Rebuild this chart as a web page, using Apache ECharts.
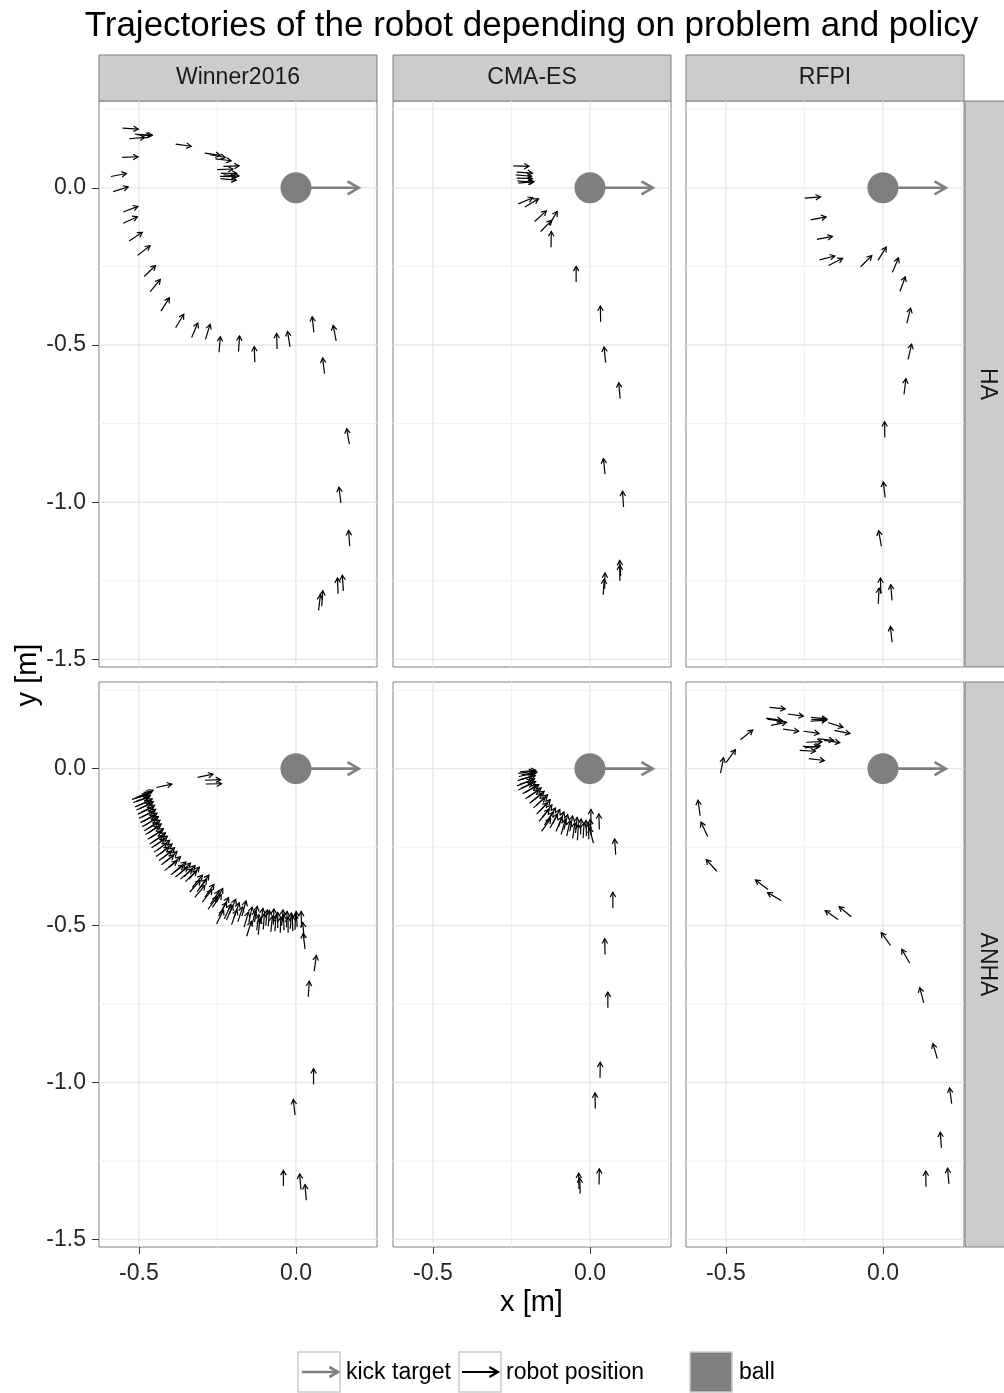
<!DOCTYPE html>
<html><head><meta charset="utf-8">
<script src="https://cdn.jsdelivr.net/npm/echarts@6/dist/echarts.min.js"></script>
<style>html,body{margin:0;padding:0;background:#fff;}#c{width:1004px;height:1393px;}</style>
</head><body><div id="c"></div>
<script>
// ---------- data ----------
const problems = ['HA', 'ANHA'];
const policies = ['Winner2016', 'CMA-ES', 'RFPI'];
const xTicks = [-0.5, 0.0];
const yTicks = [0.0, -0.5, -1.0, -1.5];
const xGridMajor = [-0.5, 0.0];
const xGridMinor = [-0.25, 0.25];
const yGridMajor = [0.0, -0.5, -1.0, -1.5];
const yGridMinor = [0.25, -0.25, -0.75, -1.25];
const ballPos = [0, 0];
const kickTarget = [0.2, 0];
const robotArrowLength = 0.05;
const titleText = 'Trajectories of the robot depending on problem and policy';
const xTitle = 'x [m]';
const yTitle = 'y [m]';
const legendLabels = ['kick target', 'robot position', 'ball'];

// robot positions: [x, y, heading in degrees]
const haWinner2016 = [
  [-0.552, 0.190, -4], [-0.513, 0.171, -7], [-0.507, 0.169, -2], [-0.531, 0.156, 5],
  [-0.383, 0.139, -8], [-0.290, 0.110, -8], [-0.274, 0.105, -10], [-0.256, 0.092, -7],
  [-0.231, 0.068, 2], [-0.251, 0.058, 2], [-0.239, 0.046, 0], [-0.231, 0.041, -4],
  [-0.242, 0.036, -1], [-0.240, 0.029, -5], [-0.553, 0.097, 2], [-0.589, 0.036, 11],
  [-0.582, -0.012, 17], [-0.550, -0.077, 21], [-0.550, -0.113, 25], [-0.531, -0.169, 33],
  [-0.504, -0.215, 38], [-0.483, -0.282, 44], [-0.464, -0.330, 50], [-0.430, -0.392, 57],
  [-0.383, -0.445, 59], [-0.332, -0.476, 67], [-0.288, -0.482, 73], [-0.245, -0.523, 85],
  [-0.183, -0.521, 86], [-0.131, -0.555, 92], [-0.060, -0.513, 92], [-0.019, -0.506, 99],
  [0.057, -0.460, 96], [0.128, -0.487, 101], [0.091, -0.591, 97], [0.170, -0.815, 100],
  [0.143, -1.002, 97], [0.171, -1.140, 94], [0.134, -1.291, 92], [0.151, -1.282, 94],
  [0.072, -1.344, 83], [0.082, -1.331, 86]
];
const haCMAES = [
  [-0.244, 0.070, -2], [-0.233, 0.050, -4], [-0.236, 0.041, -5], [-0.233, 0.031, -2],
  [-0.231, 0.022, -5], [-0.228, 0.015, 5], [-0.228, -0.051, 23], [-0.207, -0.061, 31],
  [-0.176, -0.107, 42], [-0.157, -0.139, 45], [-0.130, -0.118, 59], [-0.124, -0.189, 89],
  [-0.044, -0.300, 90], [0.034, -0.426, 91], [0.050, -0.556, 96], [0.096, -0.670, 95],
  [0.048, -0.911, 96], [0.107, -1.015, 94], [0.098, -1.235, 94], [0.095, -1.250, 90],
  [0.042, -1.294, 86], [0.047, -1.275, 89]
];
const haRFPI = [
  [-0.249, -0.033, 5], [-0.230, -0.102, 11], [-0.210, -0.164, 11], [-0.202, -0.229, 14],
  [-0.173, -0.247, 27], [-0.071, -0.251, 45], [-0.016, -0.231, 58], [0.030, -0.269, 67],
  [0.054, -0.330, 70], [0.076, -0.431, 76], [0.080, -0.546, 77], [0.067, -0.657, 83],
  [0.006, -0.794, 91], [0.007, -0.985, 97], [-0.005, -1.140, 100], [-0.015, -1.323, 87],
  [-0.007, -1.291, 91], [0.029, -1.312, 95], [0.029, -1.445, 96]
];
const anhaWinner2016 = [
  [-0.444, -0.060, 12], [-0.313, -0.028, 12], [-0.290, -0.037, 2], [-0.287, -0.049, 1],
  [-0.522, -0.098, 17], [-0.515, -0.095, 20], [-0.508, -0.092, 22], [-0.500, -0.090, 25],
  [-0.518, -0.108, 18], [-0.510, -0.105, 22], [-0.512, -0.122, 22], [-0.503, -0.118, 25],
  [-0.508, -0.132, 24], [-0.498, -0.128, 28], [-0.503, -0.145, 25], [-0.494, -0.140, 28],
  [-0.500, -0.158, 26], [-0.490, -0.155, 30], [-0.495, -0.172, 28], [-0.485, -0.168, 32],
  [-0.490, -0.185, 29], [-0.480, -0.180, 33], [-0.483, -0.198, 30], [-0.474, -0.192, 34],
  [-0.479, -0.210, 31], [-0.470, -0.205, 35], [-0.472, -0.225, 31], [-0.463, -0.220, 35],
  [-0.466, -0.240, 32], [-0.456, -0.234, 36], [-0.460, -0.252, 33], [-0.449, -0.246, 38],
  [-0.452, -0.266, 35], [-0.441, -0.260, 39], [-0.445, -0.280, 36], [-0.433, -0.272, 40],
  [-0.436, -0.293, 37], [-0.424, -0.285, 41], [-0.428, -0.306, 38], [-0.416, -0.298, 42],
  [-0.418, -0.325, 38], [-0.405, -0.314, 42], [-0.398, -0.338, 37], [-0.388, -0.330, 41],
  [-0.384, -0.345, 38], [-0.372, -0.336, 44], [-0.368, -0.352, 40], [-0.356, -0.345, 46],
  [-0.352, -0.360, 44], [-0.340, -0.352, 50], [-0.338, -0.393, 48], [-0.330, -0.378, 50],
  [-0.322, -0.410, 50], [-0.315, -0.392, 52], [-0.306, -0.380, 55], [-0.298, -0.425, 52],
  [-0.290, -0.410, 55], [-0.280, -0.448, 53], [-0.272, -0.432, 57], [-0.266, -0.442, 55],
  [-0.258, -0.425, 60], [-0.253, -0.495, 63], [-0.246, -0.470, 60], [-0.238, -0.455, 62],
  [-0.228, -0.478, 65], [-0.221, -0.482, 67], [-0.212, -0.462, 66], [-0.205, -0.497, 70],
  [-0.198, -0.475, 70], [-0.185, -0.488, 72], [-0.172, -0.470, 75], [-0.165, -0.505, 74],
  [-0.157, -0.534, 72], [-0.150, -0.490, 78], [-0.141, -0.502, 76], [-0.132, -0.488, 80],
  [-0.125, -0.515, 82], [-0.120, -0.529, 84], [-0.112, -0.495, 82], [-0.104, -0.512, 86],
  [-0.096, -0.500, 85], [-0.088, -0.502, 86], [-0.080, -0.520, 84], [-0.072, -0.497, 88],
  [-0.067, -0.518, 86], [-0.058, -0.508, 90], [-0.050, -0.523, 88], [-0.046, -0.500, 84],
  [-0.038, -0.515, 92], [-0.030, -0.505, 88], [-0.025, -0.523, 90], [-0.018, -0.510, 86],
  [-0.010, -0.518, 92], [-0.003, -0.513, 88], [0.004, -0.505, 94],
  [0.018, -0.505, 92], [0.026, -0.540, 95], [0.029, -0.575, 97],
  [0.058, -0.645, 82], [0.039, -0.727, 86], [0.056, -1.006, 90], [-0.003, -1.104, 96],
  [-0.040, -1.330, 90], [0.016, -1.341, 95], [0.033, -1.375, 95]
];
const anhaCMAES = [
  [-0.228, -0.015, 8], [-0.222, -0.010, 5], [-0.226, -0.025, 12], [-0.218, -0.020, 10],
  [-0.230, -0.038, 18], [-0.222, -0.035, 15], [-0.232, -0.055, 22], [-0.223, -0.050, 20],
  [-0.228, -0.068, 26], [-0.218, -0.062, 25], [-0.215, -0.080, 30], [-0.206, -0.076, 30],
  [-0.205, -0.096, 34], [-0.196, -0.090, 35], [-0.192, -0.110, 38], [-0.184, -0.104, 40],
  [-0.180, -0.125, 42], [-0.171, -0.118, 44], [-0.170, -0.145, 46], [-0.160, -0.136, 48],
  [-0.162, -0.168, 50], [-0.152, -0.155, 52], [-0.154, -0.200, 55], [-0.145, -0.180, 56],
  [-0.136, -0.168, 58], [-0.127, -0.189, 62], [-0.118, -0.175, 64], [-0.108, -0.200, 68],
  [-0.100, -0.185, 70], [-0.092, -0.210, 74], [-0.083, -0.195, 76], [-0.074, -0.215, 78],
  [-0.064, -0.200, 80], [-0.055, -0.222, 82], [-0.046, -0.205, 84], [-0.040, -0.228, 86],
  [-0.030, -0.210, 88], [-0.022, -0.222, 86], [-0.011, -0.215, 92], [-0.004, -0.225, 90],
  [0.004, -0.212, 94], [0.011, -0.237, 105], [0.003, -0.180, 90], [0.030, -0.194, 92],
  [0.082, -0.274, 94], [0.073, -0.444, 90], [0.048, -0.592, 91], [0.057, -0.762, 90],
  [0.032, -0.985, 89], [0.017, -1.083, 91], [0.029, -1.325, 89], [-0.035, -1.339, 91],
  [-0.031, -1.354, 92]
];
const anhaRFPI = [
  [-0.361, 0.195, -5], [-0.303, 0.174, -8], [-0.372, 0.161, -8], [-0.368, 0.158, -9],
  [-0.356, 0.138, 11], [-0.318, 0.126, -8], [-0.228, 0.156, 0], [-0.229, 0.163, -5],
  [-0.230, 0.151, 4], [-0.175, 0.147, -18], [-0.154, 0.122, -12], [-0.253, 0.119, -8],
  [-0.207, 0.095, -6], [-0.187, 0.090, -8], [-0.244, 0.084, 2], [-0.255, 0.071, -3],
  [-0.265, 0.058, -3], [-0.249, 0.066, 8], [-0.236, 0.032, -7], [-0.454, 0.092, 38],
  [-0.499, 0.020, 54], [-0.517, -0.014, 79], [-0.582, -0.150, 98], [-0.558, -0.216, 115],
  [-0.529, -0.327, 132], [-0.366, -0.385, 143], [-0.324, -0.420, 150], [-0.143, -0.481, 145],
  [-0.101, -0.472, 140], [0.024, -0.563, 126], [0.085, -0.619, 120], [0.130, -0.746, 105],
  [0.173, -0.924, 106], [0.219, -1.067, 98], [0.186, -1.208, 94], [0.137, -1.332, 91],
  [0.210, -1.323, 95]
];
const panelData = [
  [haWinner2016, haCMAES, haRFPI],
  [anhaWinner2016, anhaCMAES, anhaRFPI]
];

// ---------- layout ----------
const X_MIN = -0.627, X_MAX = 0.258, Y_MIN = -1.524, Y_MAX = 0.276;
const colLeft = [99, 393, 686], colW = 278;
const rowTop = [101, 682], rowH = [566, 565];
const FONT = '"Liberation Sans", Arial, Helvetica, sans-serif';
const GREY = '#7f7f7f';

function arrowGroup(p0, p1, head, color, width) {
  const a = Math.atan2(p1[1] - p0[1], p1[0] - p0[0]);
  const s = Math.PI / 6;
  const h1 = [p1[0] - head * Math.cos(a - s), p1[1] - head * Math.sin(a - s)];
  const h2 = [p1[0] - head * Math.cos(a + s), p1[1] - head * Math.sin(a + s)];
  return {
    type: 'group', children: [
      { type: 'line', shape: { x1: p0[0], y1: p0[1], x2: p1[0], y2: p1[1] }, style: { stroke: color, lineWidth: width, lineCap: 'butt' } },
      { type: 'polyline', shape: { points: [h1, p1, h2] }, style: { stroke: color, lineWidth: width, fill: null, lineJoin: 'miter' } }
    ]
  };
}

const grids = [], xAxes = [], yAxes = [], series = [];
let gi = 0;
for (let r = 0; r < 2; r++) {
  for (let c = 0; c < 3; c++) {
    grids.push({ left: colLeft[c], top: rowTop[r], width: colW, height: rowH[r], show: true,
      backgroundColor: '#fff', borderColor: GREY, borderWidth: 1, containLabel: false });
    xAxes.push({
      gridIndex: gi, type: 'value', min: X_MIN, max: X_MAX,
      axisLine: { show: false, onZero: false }, splitLine: { show: false },
      axisTick: { show: r === 1, customValues: xTicks, length: 7, lineStyle: { color: '#333', width: 1 } },
      axisLabel: { show: r === 1, customValues: xTicks, formatter: v => v.toFixed(1), fontSize: 23, color: '#262626', fontFamily: FONT, margin: 15 }
    });
    yAxes.push({
      gridIndex: gi, type: 'value', min: Y_MIN, max: Y_MAX,
      axisLine: { show: false, onZero: false }, splitLine: { show: false },
      axisTick: { show: c === 0, customValues: yTicks, length: 7, lineStyle: { color: '#333', width: 1 } },
      axisLabel: { show: c === 0, customValues: yTicks, formatter: v => v.toFixed(1), fontSize: 23, color: '#262626', fontFamily: FONT, margin: 13 }
    });
    const vData = xGridMajor.map(v => [v, 0, 1]).concat(xGridMinor.map(v => [v, 0, 0]));
    const hData = yGridMajor.map(v => [0, v, 1]).concat(yGridMinor.map(v => [0, v, 0]));
    series.push({
      type: 'custom', xAxisIndex: gi, yAxisIndex: gi, z: 1, silent: true, clip: true,
      data: vData, encode: { x: 0, y: 1 },
      renderItem: (params, api) => {
        const cs = params.coordSys;
        const px = api.coord([api.value(0), 0])[0];
        const major = api.value(2) === 1;
        return { type: 'line', shape: { x1: px, y1: cs.y, x2: px, y2: cs.y + cs.height },
          style: { stroke: major ? '#e6e6e6' : '#f0f0f0', lineWidth: major ? 1.3 : 1 } };
      }
    });
    series.push({
      type: 'custom', xAxisIndex: gi, yAxisIndex: gi, z: 1, silent: true, clip: true,
      data: hData, encode: { x: 0, y: 1 },
      renderItem: (params, api) => {
        const cs = params.coordSys;
        const py = api.coord([0, api.value(1)])[1];
        const major = api.value(2) === 1;
        return { type: 'line', shape: { x1: cs.x, y1: py, x2: cs.x + cs.width, y2: py },
          style: { stroke: major ? '#e6e6e6' : '#f0f0f0', lineWidth: major ? 1.3 : 1 } };
      }
    });
    series.push({
      type: 'custom', xAxisIndex: gi, yAxisIndex: gi, z: 3, silent: true,
      data: [[ballPos[0], ballPos[1], kickTarget[0], kickTarget[1]]], encode: { x: [0, 2], y: [1, 3] },
      renderItem: (params, api) => {
        const p0 = api.coord([api.value(0), api.value(1)]);
        const p1 = api.coord([api.value(2), api.value(3)]);
        return arrowGroup(p0, p1, 13, GREY, 2.6);
      }
    });
    series.push({
      type: 'custom', xAxisIndex: gi, yAxisIndex: gi, z: 4, silent: true,
      data: [ballPos], encode: { x: 0, y: 1 },
      renderItem: (params, api) => {
        const p = api.coord([api.value(0), api.value(1)]);
        return { type: 'circle', shape: { cx: p[0], cy: p[1], r: 15.5 }, style: { fill: GREY } };
      }
    });
    series.push({
      type: 'custom', xAxisIndex: gi, yAxisIndex: gi, z: 5, silent: true,
      data: panelData[r][c], encode: { x: 0, y: 1 },
      renderItem: (params, api) => {
        const x = api.value(0), y = api.value(1), th = api.value(2) * Math.PI / 180;
        const p0 = api.coord([x, y]);
        const p1 = api.coord([x + robotArrowLength * Math.cos(th), y + robotArrowLength * Math.sin(th)]);
        return arrowGroup(p0, p1, 5.5, '#000', 1.2);
      }
    });
    gi++;
  }
}

// ---------- graphics (title, strips, axis titles, legend) ----------
const graphics = [];
graphics.push({ type: 'text', x: 531.5, y: 26, style: { text: titleText, font: '35px ' + FONT, fill: '#000', textAlign: 'center', textVerticalAlign: 'middle' } });
for (let c = 0; c < 3; c++) {
  graphics.push({ type: 'rect', shape: { x: colLeft[c], y: 55, width: colW, height: 46 }, style: { fill: '#cccccc', stroke: GREY, lineWidth: 1 } });
  graphics.push({ type: 'text', x: colLeft[c] + colW / 2, y: 78, style: { text: policies[c], font: '23px ' + FONT, fill: '#1a1a1a', textAlign: 'center', textVerticalAlign: 'middle' } });
}
for (let r = 0; r < 2; r++) {
  graphics.push({ type: 'rect', shape: { x: 965, y: rowTop[r], width: 45, height: rowH[r] }, style: { fill: '#cccccc', stroke: GREY, lineWidth: 1 } });
  graphics.push({ type: 'text', x: 987, y: rowTop[r] + rowH[r] / 2, rotation: -Math.PI / 2, style: { text: problems[r], font: '23px ' + FONT, fill: '#1a1a1a', textAlign: 'center', textVerticalAlign: 'middle' } });
}
graphics.push({ type: 'text', x: 531.5, y: 1303, style: { text: xTitle, font: '29px ' + FONT, fill: '#000', textAlign: 'center', textVerticalAlign: 'middle' } });
graphics.push({ type: 'text', x: 28, y: 675, rotation: Math.PI / 2, style: { text: yTitle, font: '29px ' + FONT, fill: '#000', textAlign: 'center', textVerticalAlign: 'middle' } });

graphics.push({ type: 'rect', shape: { x: 298, y: 1352, width: 42, height: 40 }, style: { fill: '#fff', stroke: '#cccccc', lineWidth: 1.5 } });
graphics.push(arrowGroup([302, 1372], [338, 1372], 10, GREY, 2.6));
graphics.push({ type: 'text', x: 346, y: 1373, style: { text: legendLabels[0], font: '23px ' + FONT, fill: '#000', textAlign: 'left', textVerticalAlign: 'middle' } });
graphics.push({ type: 'rect', shape: { x: 459, y: 1352, width: 42, height: 40 }, style: { fill: '#fff', stroke: '#cccccc', lineWidth: 1.5 } });
graphics.push(arrowGroup([462, 1372], [498, 1372], 10, '#000', 2.2));
graphics.push({ type: 'text', x: 506, y: 1373, style: { text: legendLabels[1], font: '23px ' + FONT, fill: '#000', textAlign: 'left', textVerticalAlign: 'middle' } });
graphics.push({ type: 'rect', shape: { x: 690, y: 1352, width: 42, height: 40 }, style: { fill: GREY, stroke: '#cccccc', lineWidth: 1.5 } });
graphics.push({ type: 'text', x: 739, y: 1373, style: { text: legendLabels[2], font: '23px ' + FONT, fill: '#000', textAlign: 'left', textVerticalAlign: 'middle' } });

const chart = echarts.init(document.getElementById('c'), null, { renderer: 'canvas' });
chart.setOption({
  animation: false,
  backgroundColor: '#fff',
  textStyle: { fontFamily: FONT },
  grid: grids, xAxis: xAxes, yAxis: yAxes, series: series,
  graphic: graphics
});
</script></body></html>
